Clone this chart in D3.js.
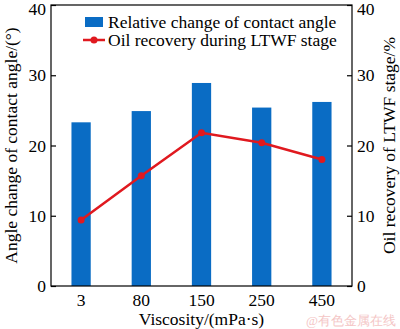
<!DOCTYPE html>
<html><head><meta charset="utf-8">
<script src="https://cdn.jsdelivr.net/npm/d3@7"></script>
<style>body{margin:0;background:#fff}svg{display:block}text{font-family:"Liberation Serif","Times New Roman",serif;fill:#000}</style>
</head><body>
<script>
const categories = ["3","80","150","250","450"];
const angleChange = [23.3, 24.9, 28.9, 25.4, 26.2];
const oilRecovery = [9.4, 15.7, 21.8, 20.4, 18.0];
const yTicks = [0,10,20,30,40];
const legendLabels = ["Relative change of contact angle","Oil recovery during LTWF stage"];

const W=400,H=329, m={l:51,r:48,t:5,b:43};
const svg=d3.select("body").append("svg").attr("width",W).attr("height",H);
const x=d3.scaleBand().domain(categories).range([m.l,W-m.r]).paddingInner(0.68).paddingOuter(0.34);
const yL=d3.scaleLinear().domain([0,40]).range([H-m.b,m.t]);
const yR=d3.scaleLinear().domain([0,40]).range([H-m.b,m.t]);
const blue="#0a6cc4", red="#e0191f";

svg.selectAll("rect.bar").data(categories).enter().append("rect").attr("class","bar")
  .attr("x",d=>x(d)).attr("width",x.bandwidth())
  .attr("y",(d,i)=>yL(angleChange[i])).attr("height",(d,i)=>yL(0)-yL(angleChange[i]))
  .attr("fill",blue);

const line=d3.line().x((d,i)=>x(categories[i])+x.bandwidth()/2).y(d=>yR(d));
svg.append("path").datum(oilRecovery).attr("d",line).attr("fill","none").attr("stroke",red).attr("stroke-width",2.5);
svg.selectAll("circle.pt").data(oilRecovery).enter().append("circle")
  .attr("cx",(d,i)=>x(categories[i])+x.bandwidth()/2).attr("cy",d=>yR(d)).attr("r",3.5).attr("fill",red);

// frame
svg.append("rect").attr("x",m.l).attr("y",m.t).attr("width",W-m.r-m.l).attr("height",H-m.b-m.t)
  .attr("fill","none").attr("stroke","#000").attr("stroke-width",1.2);

const fs=17.5;
const axL=svg.append("g").attr("transform",`translate(${m.l},0)`).call(d3.axisLeft(yL).tickValues(yTicks).tickSize(-5).tickPadding(5));
const axR=svg.append("g").attr("transform",`translate(${W-m.r},0)`).call(d3.axisRight(yR).tickValues(yTicks).tickSize(-5).tickPadding(5));
const axB=svg.append("g").attr("transform",`translate(0,${H-m.b})`).call(d3.axisBottom(x).tickSize(0).tickPadding(8));
[axL,axR,axB].forEach(g=>{g.select(".domain").remove();g.selectAll("line").attr("stroke","#000").attr("stroke-width",1.2);g.selectAll("text").attr("font-size",fs).attr("font-family","Liberation Serif");});
axL.selectAll("text").filter(d=>d===40).attr("dy","0.55em");
axR.selectAll("text").filter(d=>d===40).attr("dy","0.55em");

svg.append("text").attr("x",(m.l+W-m.r)/2).attr("y",325).attr("text-anchor","middle").attr("font-size",fs).text("Viscosity/(mPa·s)");
svg.append("text").attr("transform",`translate(17,${(m.t+H-m.b)/2}) rotate(-90)`).attr("text-anchor","middle").attr("font-size",fs).text("Angle change of contact angle/(°)");
svg.append("text").attr("transform",`translate(395,${(m.t+H-m.b)/2}) rotate(-90)`).attr("text-anchor","middle").attr("font-size",fs).text("Oil recovery of LTWF stage/%");

// legend
const lg=svg.append("g");
lg.append("rect").attr("x",85).attr("y",17).attr("width",18).attr("height",10).attr("fill",blue);
lg.append("text").attr("x",108).attr("y",28).attr("font-size",fs).text(legendLabels[0]);
lg.append("line").attr("x1",83).attr("x2",105).attr("y1",40).attr("y2",40).attr("stroke",red).attr("stroke-width",2.5);
lg.append("circle").attr("cx",94).attr("cy",40).attr("r",3.5).attr("fill",red);
lg.append("text").attr("x",108).attr("y",46).attr("font-size",fs).text(legendLabels[1]);

svg.append("text").attr("x",396).attr("y",325).attr("text-anchor","end").attr("font-family","Noto Sans CJK SC").attr("font-size",13).style("fill","#f4c6c6").text("@有色金属在线");
</script>
</body></html>
